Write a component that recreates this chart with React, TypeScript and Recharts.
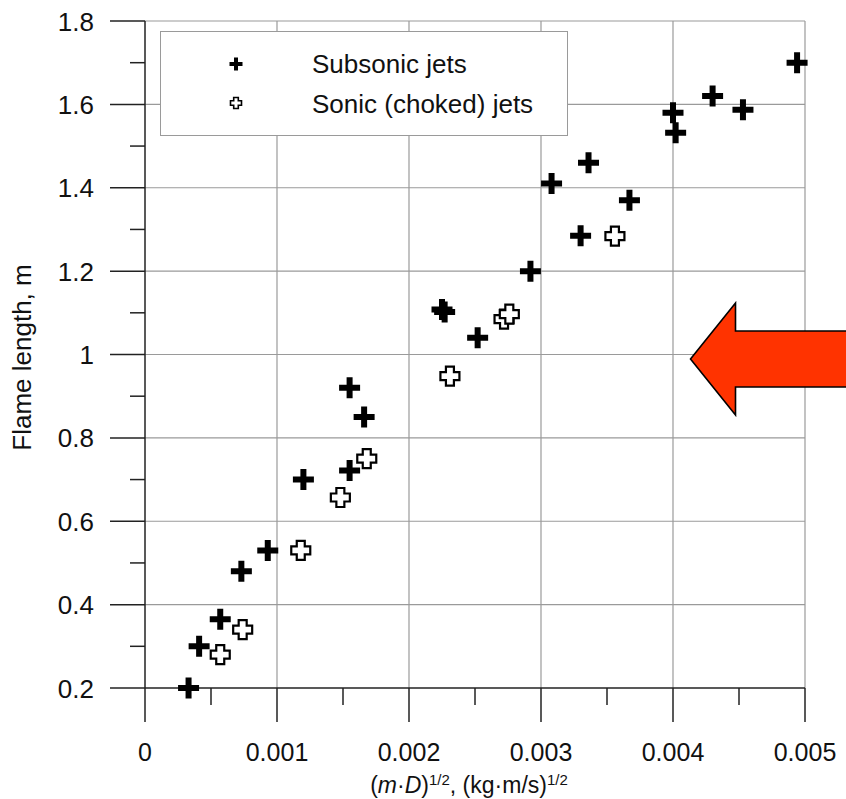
import React from 'react';
import { ScatterChart, Scatter, XAxis, YAxis, ReferenceLine, Legend } from 'recharts';

// readings taken off the figure
const subsonicX = [0.00033, 0.00041, 0.00057, 0.00073, 0.00093, 0.0012, 0.00155, 0.00166, 0.00155, 0.00225, 0.00227, 0.00252, 0.00292, 0.00308, 0.0033, 0.00336, 0.00367, 0.004, 0.00402, 0.0043, 0.00453, 0.00494];
const subsonicY = [0.2, 0.3, 0.365, 0.48, 0.53, 0.7, 0.92, 0.85, 0.722, 1.108, 1.102, 1.04, 1.2, 1.41, 1.285, 1.46, 1.37, 1.58, 1.532, 1.62, 1.587, 1.7];
const sonicX = [0.00057, 0.00074, 0.00118, 0.00148, 0.00168, 0.00231, 0.00272, 0.00276, 0.00356];
const sonicY = [0.28, 0.34, 0.53, 0.657, 0.75, 0.948, 1.085, 1.097, 1.284];

const xTicks = [0, 0.0005, 0.001, 0.0015, 0.002, 0.0025, 0.003, 0.0035, 0.004, 0.0045, 0.005];
const xMajor = [0, 0.001, 0.002, 0.003, 0.004, 0.005];
const yTicks = [0.2, 0.3, 0.4, 0.5, 0.6, 0.7, 0.8, 0.9, 1, 1.1, 1.2, 1.3, 1.4, 1.5, 1.6, 1.7, 1.8];
const yMajor = [0.2, 0.4, 0.6, 0.8, 1, 1.2, 1.4, 1.6, 1.8];

const seriesNames = ['Subsonic jets', 'Sonic (choked) jets'];

const subsonic = subsonicX.map((x, i) => ({ x, y: subsonicY[i] }));
const sonic = sonicX.map((x, i) => ({ x, y: sonicY[i] }));

const FONT = '"Liberation Sans", Arial, Helvetica, sans-serif';
const AXIS = '#222';
const GRID = '#9a9a9a';

const plusPath = (cx: number, cy: number, h: number, t: number) =>
  `M${cx - t},${cy - h}H${cx + t}V${cy - t}H${cx + h}V${cy + t}H${cx + t}V${cy + h}H${cx - t}V${cy + t}H${cx - h}V${cy - t}H${cx - t}Z`;

const FilledPlus = (props: any) => {
  const { cx, cy } = props;
  return <path d={plusPath(cx, cy, 10.5, 3)} fill="#000" />;
};

const OpenPlus = (props: any) => {
  const { cx, cy } = props;
  return <path d={plusPath(cx, cy, 9.5, 4)} fill="#fff" stroke="#000" strokeWidth={2.2} />;
};

const isMajor = (v: number, list: number[]) => list.some((m) => Math.abs(m - v) < 1e-9);

const XTick = (props: any) => {
  const { x, y, payload } = props;
  const major = isMajor(payload.value, xMajor);
  return (
    <g>
      <line x1={x} x2={x} y1={y} y2={y + (major ? 34 : 17)} stroke={AXIS} strokeWidth={1.5} />
      {major && (
        <text x={x} y={y + 73} textAnchor="middle" fontSize={25} fill="#111" fontFamily={FONT}>
          {String(payload.value)}
        </text>
      )}
    </g>
  );
};

const YTick = (props: any) => {
  const { x, y, payload } = props;
  const major = isMajor(payload.value, yMajor);
  return (
    <g>
      <line x1={x - (major ? 35 : 15)} x2={x} y1={y} y2={y} stroke={AXIS} strokeWidth={1.5} />
      {major && (
        <text x={x - 51} y={y + 9.5} textAnchor="end" fontSize={26} fill="#111" fontFamily={FONT}>
          {String(payload.value)}
        </text>
      )}
    </g>
  );
};

const XLabel = (props: any) => {
  const vb = props.viewBox || {};
  const cx = (vb.x || 0) + (vb.width || 0) / 2 - 6;
  return (
    <text x={cx} y={793} textAnchor="middle" fontSize={23} fill="#111" fontFamily={FONT}>
      <tspan>(</tspan>
      <tspan fontStyle="italic">m</tspan>
      <tspan>·</tspan>
      <tspan fontStyle="italic">D</tspan>
      <tspan>)</tspan>
      <tspan fontSize={15} dy={-8}>1/2</tspan>
      <tspan dy={8}>, (kg·m/s)</tspan>
      <tspan fontSize={15} dy={-8}>1/2</tspan>
    </text>
  );
};

const YLabel = (props: any) => {
  const vb = props.viewBox || {};
  const cy = (vb.y || 0) + (vb.height || 0) / 2 + 3;
  return (
    <text x={31} y={cy} transform={`rotate(-90 31 ${cy})`} textAnchor="middle" fontSize={26} fill="#111" fontFamily={FONT}>
      Flame length, m
    </text>
  );
};

const LegendBox = () => (
  <svg width={408} height={105} style={{ display: 'block' }}>
    <rect x={0.5} y={0.5} width={407} height={104} fill="#fff" stroke={GRID} strokeWidth={1} />
    <path d={plusPath(76, 33, 6.5, 2)} fill="#000" />
    <path d={plusPath(76, 72, 5.5, 2.3)} fill="#fff" stroke="#000" strokeWidth={1.6} />
    {seriesNames.map((name, i) => (
      <text key={name} x={152} y={42 + i * 39.5} fontSize={26} fill="#111" fontFamily={FONT}>
        {name}
      </text>
    ))}
  </svg>
);

const App = () => {
  return (
    <div style={{ position: 'absolute', left: 0, top: 0, width: 846, height: 799, background: '#fff' }}>
      <ScatterChart width={846} height={799} margin={{ top: 21, right: 41, bottom: 0, left: 0 }}>
        <XAxis
          type="number"
          dataKey="x"
          domain={[0, 0.005]}
          ticks={xTicks}
          interval={0}
          tickSize={0}
          tickMargin={0}
          tick={<XTick />}
          height={111}
          stroke={AXIS}
          strokeWidth={1.5}
          label={<XLabel />}
        />
        <YAxis
          type="number"
          dataKey="y"
          domain={[0.2, 1.8]}
          ticks={yTicks}
          interval={0}
          tickSize={0}
          tickMargin={0}
          tick={<YTick />}
          width={145}
          stroke={AXIS}
          strokeWidth={1.5}
          label={<YLabel />}
        />
        {xMajor.slice(1).map((v) => (
          <ReferenceLine key={'gx' + v} x={v} stroke={GRID} strokeWidth={1.2} />
        ))}
        {yMajor.slice(1).map((v) => (
          <ReferenceLine key={'gy' + v} y={v} stroke={GRID} strokeWidth={1.2} />
        ))}
        <Legend
          verticalAlign="middle"
          layout="horizontal"
          content={<LegendBox />}
          wrapperStyle={{ left: 160, top: 31, width: 408, height: 105 }}
        />
        <Scatter name={seriesNames[1]} data={sonic} shape={<OpenPlus />} isAnimationActive={false} />
        <Scatter name={seriesNames[0]} data={subsonic} shape={<FilledPlus />} isAnimationActive={false} />
      </ScatterChart>
      <svg width={846} height={799} style={{ position: 'absolute', left: 0, top: 0, pointerEvents: 'none' }}>
        <polygon
          points="690.5,359 735.5,303 735.5,331 850,331 850,387 735.5,387 735.5,415"
          fill="#ff3300"
          stroke="#000"
          strokeWidth={1.6}
          strokeLinejoin="miter"
        />
      </svg>
    </div>
  );
};

export default App;
